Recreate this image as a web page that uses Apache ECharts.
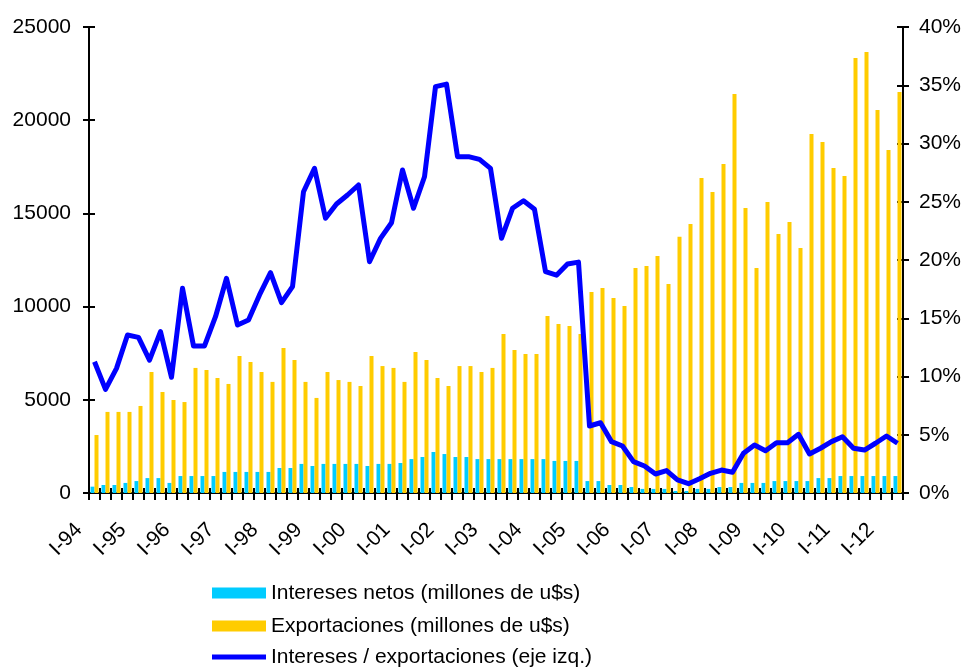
<!DOCTYPE html>
<html>
<head>
<meta charset="utf-8">
<script src="https://cdn.jsdelivr.net/npm/echarts@6/dist/echarts.min.js"></script>
<style>
  html, body { margin: 0; padding: 0; background: #fff; }
  #chart { width: 965px; height: 670px; }
</style>
</head>
<body>
<div id="chart"></div>
<script>
// trimestres I-94 .. II-12
var years = ['94','95','96','97','98','99','00','01','02','03','04','05','06','07','08','09','10','11','12'];
var quarters = ['I','II','III','IV'];
var categories = [];
for (var y = 0; y < years.length; y++) {
    for (var q = 0; q < 4; q++) {
        categories.push(quarters[q] + '-' + years[y]);
    }
}
categories = categories.slice(0, 74);

// Intereses netos (millones de u$s)
var intereses = [
    340, 430, 430, 540, 640, 800, 800, 540, 910, 910,
    910, 910, 1130, 1130, 1130, 1130, 1130, 1340, 1340, 1560,
    1450, 1560, 1560, 1560, 1560, 1450, 1560, 1560, 1610, 1820,
    1930, 2200, 2090, 1930, 1930, 1820, 1820, 1820, 1820, 1820,
    1820, 1820, 1720, 1720, 1720, 640, 640, 430, 430, 320,
    220, 220, 220, 110, 110, 220, 220, 320, 320, 540,
    540, 540, 640, 640, 640, 640, 800, 800, 910, 910,
    910, 910, 910, 910
];

// Exportaciones (millones de u$s)
var exportaciones = [
    3110, 4350, 4350, 4350, 4670, 6490, 5420, 4990, 4880, 6710,
    6600, 6170, 5850, 7350, 7030, 6490, 5960, 7780, 7140, 5960,
    5100, 6490, 6060, 5960, 5740, 7350, 6810, 6710, 5960, 7570,
    7140, 6170, 5740, 6810, 6810, 6490, 6710, 8530, 7670, 7460,
    7460, 9500, 9070, 8960, 8530, 10780, 11000, 10460, 10030, 12070,
    12180, 12720, 11210, 13750, 14430, 16900, 16150, 17650, 21410, 15290,
    12070, 15610, 13900, 14540, 13140, 19260, 18830, 17440, 17010, 23340,
    23660, 20550, 18400, 21510
];

// Intereses / exportaciones (%)
var ratio = [
    11.27, 8.9, 10.7, 13.56, 13.36, 11.4, 13.85, 9.93, 17.57, 12.62,
    12.62, 15.13, 18.43, 14.42, 14.85, 17.0, 18.91, 16.34, 17.71, 25.86,
    27.87, 23.58, 24.81, 25.58, 26.44, 19.85, 21.86, 23.2, 27.73, 24.44,
    27.15, 34.88, 35.1, 28.87, 28.87, 28.64, 27.87, 21.86, 24.44, 25.09,
    24.35, 19.0, 18.7, 19.66, 19.82, 5.75, 6.03, 4.41, 4.03, 2.69,
    2.32, 1.63, 1.92, 1.12, 0.8, 1.22, 1.69, 1.97, 1.78, 3.41,
    4.12, 3.63, 4.32, 4.32, 5.04, 3.35, 3.84, 4.41, 4.83, 3.84,
    3.69, 4.27, 4.89, 4.27
];

var seriesNames = [
    'Intereses netos (millones de u$s)',
    'Exportaciones (millones de u$s)',
    'Intereses / exportaciones (eje izq.)'
];

var fontName = 'Liberation Sans, Arial, sans-serif';
var axisBlack = { color: '#000', width: 2 };
// icono de linea para la leyenda (franja de 5px centrada)
var lineIcon = 'path://M0,0L54,0L54,0.01L0,0.01Z M0,3L54,3L54,8L0,8Z M0,10.99L54,10.99L54,11L0,11Z';

// una leyenda por fila, para que no se parta en columnas
function legendRow(top, item) {
    return {
        orient: 'vertical',
        left: 212,
        top: top,
        padding: 0,
        itemWidth: 54,
        itemHeight: 11,
        textStyle: { fontSize: 21, lineHeight: 22, color: '#000', fontFamily: fontName },
        data: [item]
    };
}

var myChart = echarts.init(document.getElementById('chart'));
var option = {
    backgroundColor: '#fff',
    animation: false,
    textStyle: { fontFamily: fontName },
    grid: { left: 89, right: 62, top: 27, bottom: 177, containLabel: false },
    legend: [
        legendRow(582, { name: seriesNames[0], icon: 'rect' }),
        legendRow(615, { name: seriesNames[1], icon: 'rect' }),
        legendRow(646, { name: seriesNames[2], icon: lineIcon, itemStyle: { color: '#0000FF' } })
    ],
    xAxis: [
        {
            type: 'category',
            data: categories,
            boundaryGap: true,
            axisLine: { lineStyle: axisBlack },
            axisTick: { show: true, interval: 0, length: 7, lineStyle: axisBlack },
            axisLabel: {
                interval: 3,
                rotate: 45,
                margin: 18,
                padding: [0, 22, 0, 0],
                fontSize: 21,
                color: '#000',
                fontFamily: fontName
            },
            splitLine: { show: false }
        },
        {
            type: 'category',
            data: categories,
            position: 'bottom',
            boundaryGap: true,
            axisLine: { show: false },
            axisTick: { show: true, inside: true, interval: 0, length: 5, lineStyle: axisBlack },
            axisLabel: { show: false },
            splitLine: { show: false }
        }
    ],
    yAxis: [
        {
            type: 'value',
            position: 'left',
            min: 0, max: 25000, interval: 5000,
            axisLine: { show: true, lineStyle: axisBlack },
            axisTick: { show: true, length: 6, lineStyle: axisBlack },
            axisLabel: {
                fontSize: 21, color: '#000', margin: 18, fontFamily: fontName,
                formatter: function (v) { return String(v); }
            },
            splitLine: { show: false }
        },
        {
            type: 'value',
            position: 'right',
            min: 0, max: 40, interval: 5,
            axisLine: { show: true, lineStyle: axisBlack },
            axisTick: { show: true, length: 6, lineStyle: axisBlack },
            axisLabel: { fontSize: 21, color: '#000', margin: 16, formatter: '{value}%', fontFamily: fontName },
            splitLine: { show: false }
        },
        {
            type: 'value',
            position: 'left',
            min: 0, max: 25000, interval: 5000,
            axisLine: { show: false },
            axisTick: { show: true, inside: true, length: 6, lineStyle: axisBlack },
            axisLabel: { show: false },
            splitLine: { show: false }
        },
        {
            type: 'value',
            position: 'right',
            min: 0, max: 40, interval: 5,
            axisLine: { show: false },
            axisTick: { show: true, inside: true, length: 6, lineStyle: axisBlack },
            axisLabel: { show: false },
            splitLine: { show: false }
        }
    ],
    series: [
        {
            name: seriesNames[0],
            type: 'bar',
            data: intereses,
            barWidth: 4,
            barGap: '0%',
            itemStyle: { color: '#00CCFF' }
        },
        {
            name: seriesNames[1],
            type: 'bar',
            data: exportaciones,
            barWidth: 4,
            barGap: '0%',
            itemStyle: { color: '#FFCC00' }
        },
        {
            name: seriesNames[2],
            type: 'line',
            yAxisIndex: 1,
            data: ratio,
            symbol: 'none',
            z: 5,
            lineStyle: { color: '#0000FF', width: 5, join: 'round' },
            itemStyle: { color: '#0000FF' }
        }
    ]
};
myChart.setOption(option);
</script>
</body>
</html>
